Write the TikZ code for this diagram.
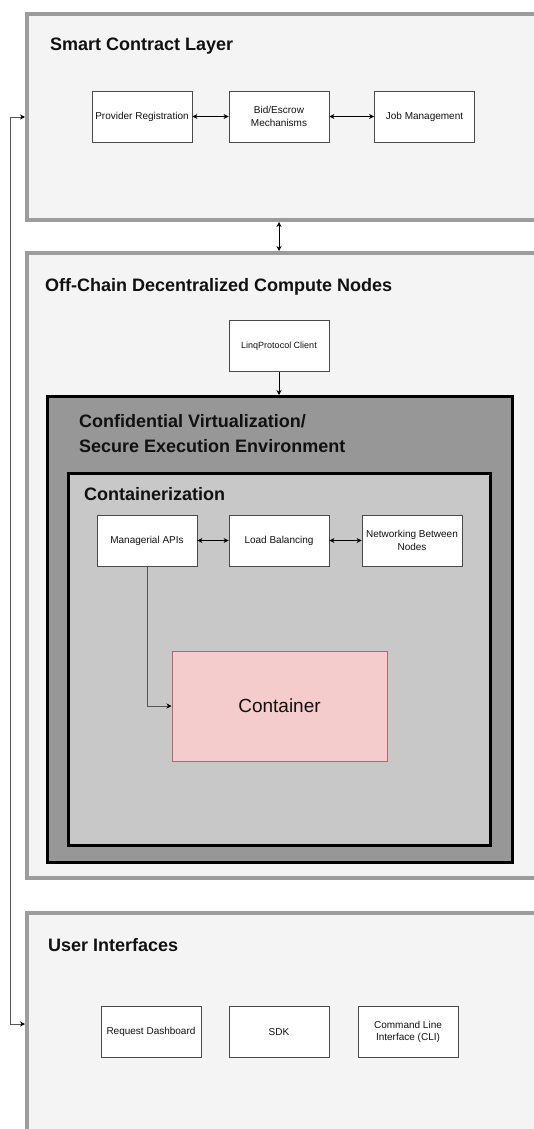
\documentclass[tikz,border=0pt]{standalone}
\usepackage{fontspec}
\setmainfont{Liberation Sans}
\usetikzlibrary{arrows.meta}
\definecolor{layerfill}{HTML}{F4F4F4}
\definecolor{layerdraw}{HTML}{9C9C9C}
\definecolor{cvfill}{HTML}{979797}
\definecolor{ctfill}{HTML}{C8C8C8}
\definecolor{boxdraw}{HTML}{4A4A4A}
\definecolor{contfill}{HTML}{F4CCCC}
\definecolor{contdraw}{HTML}{C0625F}
\definecolor{linegray}{HTML}{555555}
\definecolor{txt}{HTML}{111111}
\begin{document}
\begin{tikzpicture}[x=1pt,y=-1pt,
  layer/.style={draw=layerdraw, fill=layerfill, line width=4pt, rectangle, anchor=north west, inner sep=0pt},
  cvbox/.style={draw=black, fill=cvfill, line width=3pt, rectangle, anchor=north west, inner sep=0pt},
  ctbox/.style={draw=black, fill=ctfill, line width=3pt, rectangle, anchor=north west, inner sep=0pt},
  title/.style={font=\fontsize{18}{25}\selectfont\bfseries, text=txt, inner sep=0pt, anchor=base west},
  item/.style={draw=boxdraw, fill=white, line width=0.8pt, minimum width=100pt, minimum height=51pt,
    inner sep=1pt, align=center, font=\fontsize{10}{12.5}\selectfont, text=txt},
  smallitem/.style={item, font=\fontsize{9}{11}\selectfont},
  contbox/.style={draw=contdraw, fill=contfill, line width=1pt, minimum width=215pt, minimum height=110pt,
    font=\fontsize{19}{22}\selectfont, text=txt},
  tip/.tip={Stealth[length=5pt,width=5pt]},
  biarrow/.style={draw=black, line width=0.8pt, tip-tip},
  onearrow/.style={draw=black, line width=0.8pt, -tip},
  conn/.style={draw=linegray, line width=0.9pt, -{Stealth[length=5pt,width=5pt,color=black]}},
  biconn/.style={draw=linegray, line width=0.9pt, {Stealth[length=5pt,width=5pt,color=black]}-{Stealth[length=5pt,width=5pt,color=black]}}
]
\useasboundingbox (0,0) rectangle (534,1129);
\fill[white] (0,0) rectangle (534,1129);
\clip (0,0) rectangle (534,1129);

% Layers
\node[layer, minimum width=600pt, minimum height=206pt] (sc) at (25,12) {};
\node[layer, minimum width=600pt, minimum height=625pt] (oc) at (25,251) {};
\node[layer, minimum width=600pt, minimum height=260pt] (ui) at (25,911) {};
\node[cvbox, minimum width=465pt, minimum height=466pt] (cv) at (45.5,395) {};
\node[ctbox, minimum width=422pt, minimum height=372pt] (ct) at (67,471.5) {};

% Titles
\node[title] (sct) at (50,51) {Smart Contract Layer};
\node[title] (oct) at (45,291) {Off-Chain Decentralized Compute Nodes};
\node[title, anchor=west, align=left] (cvt) at (79,434) {Confidential Virtualization/\\Secure Execution Environment};
\node[title] (ctt) at (84,500) {Containerization};
\node[title] (uit) at (48,951) {User Interfaces};

% Smart contract layer
\node[item] (pr) at (142,116.5) {Provider Registration};
\node[item] (be) at (279,116.5) {Bid/Escrow\\Mechanisms};
\node[item] (jm) at (424.5,116.5) {Job Management};

% Off-chain
\node[smallitem] (lpc) at (279,346) {LinqProtocol Client};
\node[item] (mapi) at (147,540.5) {Managerial APIs};
\node[item] (lb) at (279,540.5) {Load Balancing};
\node[item] (nbn) at (412,540.5) {Networking Between\\Nodes};
\node[contbox] (cont) at (279.5,706) {Container};

% User interfaces
\node[item] (rd) at (151,1032) {Request Dashboard};
\node[item] (sdk) at (279,1032) {SDK};
\node[item] (cli) at (408,1032) {Command Line\\Interface (CLI)};

% Connectors
\draw[biarrow] (pr.east) -- (be.west);
\draw[biarrow] (be.east) -- (jm.west);
\draw[biarrow] (be.center |- sc.south) -- (be.center |- oc.north);
\draw[onearrow] (lpc.south) -- (lpc.south |- cv.north);
\draw[biarrow] (mapi.east) -- (lb.west);
\draw[biarrow] (lb.east) -- (nbn.west);
\draw[conn] (mapi.south) |- (cont.west);

\coordinate (lt) at (10,117);
\coordinate (lbot) at (10,1024);
\draw[biconn] (sc.west |- lt) -- (lt) -- (lbot) -- (ui.west |- lbot);
\end{tikzpicture}
\end{document}
